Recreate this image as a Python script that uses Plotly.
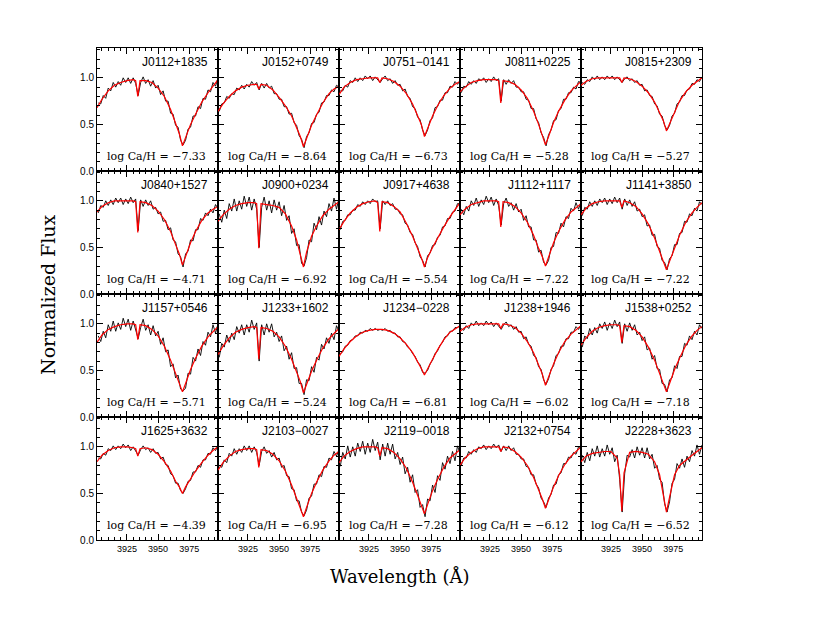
import plotly.graph_objects as go
from plotly.subplots import make_subplots

# star names and abundances, row by row
stars = ["J0112+1835", "J0152+0749", "J0751−0141", "J0811+0225", "J0815+2309",
         "J0840+1527", "J0900+0234", "J0917+4638", "J1112+1117", "J1141+3850",
         "J1157+0546", "J1233+1602", "J1234−0228", "J1238+1946", "J1538+0252",
         "J1625+3632", "J2103−0027", "J2119−0018", "J2132+0754", "J2228+3623"]
log_ca_h = [-7.33, -8.64, -6.73, -5.28, -5.27,
            -4.71, -6.92, -5.54, -7.22, -7.22,
            -5.71, -5.24, -6.81, -6.02, -7.18,
            -4.39, -6.95, -7.28, -6.12, -6.52]

# wavelength grids (Angstrom)
model_wave = [3901, 3905, 3910, 3915, 3920, 3925, 3930, 3932, 3933.7, 3935.5, 3940, 3945, 3950,
              3955, 3960, 3964, 3967, 3969.5, 3972, 3976, 3980, 3985, 3990, 3994, 3998]
obs_wave = list(range(3902, 3999, 2))

# model fluxes (percent of continuum)
m_0112 = [68, 77, 86, 92, 95, 97, 98, 97, 80, 97, 97, 95, 89, 80, 66, 52, 40, 27, 36, 50, 61, 74, 84, 91, 98]
m_0152 = [64, 72, 80, 86, 90, 92, 93, 93, 88, 93, 92, 87, 79, 70, 59, 47, 37, 26, 35, 49, 60, 73, 83, 88, 91]
m_0751 = [82, 90, 95, 98, 99, 100, 100, 100, 95, 100, 99, 96, 91, 83, 72, 60, 50, 37, 46, 59, 70, 81, 89, 93, 96]
m_0811 = [85, 90, 95, 97, 98, 98, 98, 97, 73, 97, 96, 93, 87, 78, 64, 50, 39, 28, 37, 52, 64, 76, 86, 91, 96]
m_0815 = [92, 96, 99, 100, 100, 100, 100, 100, 95, 100, 99, 96, 91, 84, 74, 63, 54, 43, 51, 64, 75, 85, 92, 96, 100]
m_0840 = [88, 94, 98, 100, 100, 100, 100, 99, 66, 99, 98, 95, 89, 80, 67, 53, 43, 31, 40, 55, 67, 79, 87, 91, 94]
m_0900 = [78, 85, 91, 95, 97, 98, 98, 97, 49, 97, 96, 95, 93, 86, 73, 58, 42, 29, 45, 62, 73, 84, 91, 95, 99]
m_0917 = [69, 78, 87, 93, 97, 99, 100, 98, 67, 99, 98, 94, 88, 76, 62, 49, 39, 29, 39, 50, 60, 72, 83, 91, 98]
m_1112 = [85, 91, 96, 98, 100, 100, 100, 99, 72, 99, 98, 94, 87, 77, 63, 49, 40, 30, 40, 55, 67, 79, 88, 93, 97]
m_1141 = [85, 92, 97, 99, 100, 100, 100, 100, 93, 100, 98, 94, 86, 75, 60, 46, 36, 26, 35, 50, 63, 77, 87, 93, 98]
m_1157 = [80, 88, 94, 97, 99, 100, 100, 99, 83, 99, 98, 94, 87, 76, 61, 47, 37, 27, 36, 51, 63, 76, 86, 92, 97]
m_1233 = [67, 76, 85, 91, 94, 96, 97, 96, 62, 96, 95, 92, 86, 76, 62, 48, 38, 26, 35, 49, 61, 74, 84, 90, 95]
m_1234 = [65, 73, 81, 87, 91, 93, 94, 94, 94, 94, 93, 90, 85, 78, 69, 60, 52, 45, 51, 62, 72, 83, 91, 95, 98]
m_1238 = [92, 96, 99, 100, 100, 100, 100, 100, 95, 100, 99, 96, 90, 81, 69, 56, 46, 34, 43, 57, 69, 81, 89, 94, 98]
m_1538 = [77, 85, 92, 96, 98, 99, 99, 98, 80, 98, 97, 93, 86, 75, 61, 47, 37, 27, 36, 51, 63, 77, 87, 93, 97]
m_1625 = [84, 91, 96, 99, 100, 100, 99, 98, 90, 98, 99, 97, 92, 84, 74, 63, 57, 50, 57, 66, 74, 83, 91, 96, 100]
m_2103 = [75, 83, 90, 95, 97, 98, 98, 97, 78, 97, 96, 92, 85, 74, 59, 45, 36, 25, 35, 50, 62, 75, 85, 91, 95]
m_2119 = [83, 90, 95, 98, 100, 100, 100, 99, 90, 99, 98, 94, 87, 77, 62, 48, 38, 28, 38, 53, 65, 78, 88, 93, 97]
m_2132 = [80, 88, 94, 98, 100, 100, 100, 100, 95, 100, 99, 95, 89, 80, 67, 54, 44, 34, 43, 57, 69, 81, 90, 95, 100]
m_2228 = [84, 90, 93, 94, 95, 95, 88, 70, 31, 72, 94, 95, 94, 92, 84, 70, 50, 30, 46, 70, 80, 86, 91, 95, 99]

# observed fluxes (percent of continuum), 2 A sampling
o_0112 = [73, 72, 81, 78, 89, 86, 95, 90, 96, 92, 100, 95, 100, 94, 100, 94, 81, 95, 101, 94,
          98, 91, 97, 89, 92, 82, 86, 75, 75, 62, 61, 49, 47, 33, 28, 33, 45, 47, 59, 59,
          69, 67, 78, 77, 87, 85, 95, 91, 100]
o_0152 = [64, 72, 73, 80, 78, 83, 82, 89, 87, 92, 88, 93, 90, 96, 92, 95, 87, 94, 89, 94,
          89, 91, 83, 83, 77, 77, 69, 69, 61, 62, 52, 49, 38, 34, 25, 37, 41, 51, 52, 61,
          63, 73, 74, 81, 81, 87, 85, 92, 90]
o_0751 = [86, 86, 92, 90, 97, 95, 100, 96, 100, 97, 102, 99, 102, 97, 101, 98, 95, 99, 102, 97,
          99, 94, 97, 92, 93, 86, 88, 80, 78, 69, 67, 58, 55, 44, 38, 44, 54, 57, 68, 69,
          76, 76, 84, 84, 91, 90, 96, 93, 97]
o_0811 = [84, 91, 90, 96, 93, 97, 94, 99, 97, 100, 95, 99, 96, 101, 97, 99, 75, 98, 93, 98,
          94, 97, 90, 90, 85, 85, 77, 76, 67, 67, 56, 52, 41, 36, 27, 39, 44, 54, 55, 65,
          67, 77, 77, 84, 84, 90, 88, 96, 95]
o_0815 = [95, 93, 98, 96, 101, 98, 102, 98, 101, 98, 102, 99, 102, 98, 101, 98, 95, 99, 101, 97,
          99, 95, 97, 92, 93, 86, 87, 81, 80, 72, 70, 61, 59, 49, 44, 49, 59, 62, 72, 74,
          81, 81, 87, 88, 94, 93, 98, 96, 101]
o_0840 = [87, 95, 93, 100, 95, 101, 96, 103, 98, 103, 96, 102, 97, 104, 98, 102, 68, 101, 94, 101,
          95, 100, 91, 93, 86, 88, 78, 79, 69, 71, 58, 56, 43, 40, 29, 43, 46, 58, 57, 69,
          69, 81, 79, 87, 84, 91, 87, 96, 92]
o_0900 = [86, 77, 90, 81, 97, 89, 102, 89, 100, 91, 105, 94, 104, 90, 102, 91, 50, 93, 104, 90,
          100, 87, 101, 90, 99, 84, 95, 79, 84, 65, 70, 52, 53, 33, 30, 39, 58, 56, 76, 69,
          83, 74, 89, 83, 97, 89, 103, 91, 103]
o_0917 = [69, 78, 79, 85, 85, 90, 90, 96, 94, 99, 96, 100, 97, 102, 99, 100, 70, 100, 96, 100,
          95, 97, 91, 91, 86, 85, 76, 74, 66, 64, 55, 51, 40, 36, 29, 41, 44, 52, 53, 61,
          63, 72, 73, 81, 81, 88, 89, 97, 97]
o_1112 = [91, 85, 94, 89, 100, 95, 103, 94, 101, 96, 105, 98, 104, 95, 102, 95, 74, 97, 103, 94,
          98, 90, 97, 88, 91, 79, 84, 72, 72, 58, 58, 45, 47, 34, 31, 36, 50, 51, 66, 65,
          76, 72, 83, 81, 92, 89, 98, 91, 99]
o_1141 = [84, 93, 91, 99, 94, 100, 95, 102, 98, 103, 96, 102, 97, 104, 98, 103, 91, 102, 95, 101,
          94, 99, 89, 91, 83, 85, 73, 74, 63, 64, 51, 49, 36, 34, 26, 38, 41, 53, 53, 65,
          66, 78, 77, 86, 84, 92, 89, 99, 96]
o_1157 = [87, 81, 92, 85, 99, 92, 103, 92, 101, 94, 106, 97, 105, 93, 103, 94, 84, 96, 105, 93,
          99, 88, 98, 87, 92, 78, 85, 70, 72, 54, 57, 42, 45, 30, 28, 31, 47, 46, 64, 60,
          73, 66, 81, 77, 91, 86, 99, 90, 100]
o_1233 = [64, 79, 75, 88, 80, 90, 83, 97, 90, 99, 88, 99, 91, 104, 94, 101, 60, 99, 88, 100,
          91, 100, 86, 91, 81, 87, 71, 76, 62, 69, 52, 53, 36, 36, 24, 40, 39, 54, 48, 64,
          61, 78, 73, 85, 79, 90, 83, 98, 92]
o_1234 = [68, 70, 76, 77, 82, 83, 87, 87, 91, 90, 93, 92, 95, 93, 95, 93, 94, 93, 95, 92,
          93, 90, 90, 86, 86, 81, 80, 75, 73, 68, 65, 59, 56, 48, 47, 50, 57, 61, 68, 71,
          77, 80, 86, 87, 92, 92, 96, 96, 98]
o_1238 = [95, 93, 98, 95, 101, 98, 103, 98, 101, 98, 103, 99, 102, 97, 101, 98, 94, 99, 102, 97,
          99, 94, 97, 91, 92, 84, 86, 78, 76, 66, 64, 54, 51, 40, 35, 41, 51, 55, 66, 68,
          76, 76, 84, 84, 91, 91, 97, 94, 99]
o_1538 = [75, 87, 84, 95, 88, 96, 90, 100, 95, 102, 93, 101, 95, 104, 97, 102, 79, 100, 92, 101,
          93, 99, 88, 91, 82, 86, 72, 74, 62, 66, 52, 51, 36, 35, 27, 40, 42, 55, 52, 65,
          65, 79, 77, 87, 83, 92, 88, 99, 95]
o_1625 = [88, 87, 93, 91, 98, 96, 101, 97, 101, 98, 103, 99, 102, 96, 100, 96, 91, 97, 101, 97,
          99, 94, 98, 93, 94, 87, 89, 81, 80, 71, 69, 61, 61, 53, 50, 55, 63, 64, 73, 73,
          80, 78, 86, 86, 93, 92, 99, 96, 101]
o_2103 = [80, 78, 86, 83, 93, 90, 98, 92, 98, 94, 101, 96, 101, 94, 100, 94, 80, 95, 100, 93,
          96, 89, 94, 86, 88, 78, 80, 69, 68, 55, 54, 42, 42, 30, 26, 32, 45, 47, 60, 60,
          70, 68, 79, 78, 88, 86, 95, 90, 97]
o_2119 = [79, 94, 87, 101, 89, 100, 90, 104, 95, 106, 92, 104, 94, 108, 96, 105, 86, 103, 90, 104,
          92, 103, 87, 94, 81, 89, 71, 78, 62, 70, 51, 54, 35, 38, 25, 44, 42, 59, 51, 69,
          64, 83, 76, 90, 82, 95, 85, 101, 93]
o_2132 = [80, 88, 88, 95, 92, 97, 94, 100, 98, 102, 97, 101, 98, 103, 99, 102, 95, 101, 96, 101,
          96, 99, 92, 92, 87, 87, 79, 78, 70, 70, 60, 56, 45, 41, 35, 45, 49, 59, 60, 70,
          72, 82, 82, 89, 88, 94, 92, 100, 99]
o_2228 = [91, 83, 94, 85, 98, 90, 101, 89, 98, 90, 102, 92, 99, 84, 91, 65, 30, 71, 91, 89,
          97, 88, 100, 91, 99, 88, 99, 87, 92, 77, 80, 65, 62, 39, 30, 41, 61, 65, 82, 77,
          87, 78, 90, 84, 96, 90, 102, 92, 102]

models = [m_0112, m_0152, m_0751, m_0811, m_0815, m_0840, m_0900, m_0917, m_1112, m_1141,
          m_1157, m_1233, m_1234, m_1238, m_1538, m_1625, m_2103, m_2119, m_2132, m_2228]
observed = [o_0112, o_0152, o_0751, o_0811, o_0815, o_0840, o_0900, o_0917, o_1112, o_1141,
            o_1157, o_1233, o_1234, o_1238, o_1538, o_1625, o_2103, o_2119, o_2132, o_2228]

fig = make_subplots(rows=4, cols=5, shared_xaxes=True, shared_yaxes=True,
                    horizontal_spacing=0, vertical_spacing=0)

for k, name in enumerate(stars):
    r, c = k // 5 + 1, k % 5 + 1
    fig.add_trace(go.Scatter(x=obs_wave, y=[v / 100 for v in observed[k]], mode="lines",
                             line=dict(color="black", width=0.9)), row=r, col=c)
    fig.add_trace(go.Scatter(x=model_wave, y=[v / 100 for v in models[k]], mode="lines",
                             line=dict(color="#ff0000", width=1.2)), row=r, col=c)
    n = "" if k == 0 else str(k + 1)
    fig.add_annotation(text=name, x=0.93, y=0.886, xref=f"x{n} domain", yref=f"y{n} domain",
                       xanchor="right", yanchor="middle", showarrow=False,
                       font=dict(family="Liberation Sans", size=12, color="black"))
    label = f"log Ca/H = {log_ca_h[k]:.2f}".replace("-", "−")
    fig.add_annotation(text=label, x=0.49, y=0.114, xref=f"x{n} domain", yref=f"y{n} domain",
                       xanchor="center", yanchor="middle", showarrow=False,
                       font=dict(family="DejaVu Serif", size=11, color="black"))

fig.update_xaxes(
    range=[3901, 3998], tick0=3900, dtick=25,
    ticks="inside", ticklen=6, tickcolor="black", mirror="allticks",
    showline=True, linecolor="black", linewidth=1,
    showgrid=False, zeroline=False,
    minor=dict(ticks="inside", tick0=3900, dtick=5, ticklen=3, tickcolor="black", showgrid=False),
    tickfont=dict(family="Liberation Sans", size=9, color="black"),
)
fig.update_yaxes(
    range=[0, 1.32], tick0=0, dtick=0.5, tickformat=".1f",
    ticks="inside", ticklen=6, tickcolor="black", mirror="allticks",
    showline=True, linecolor="black", linewidth=1,
    showgrid=False, zeroline=False,
    minor=dict(ticks="inside", tick0=0, dtick=0.1, ticklen=3, tickcolor="black", showgrid=False),
    tickfont=dict(family="Liberation Sans", size=10, color="black"),
)

fig.add_annotation(text="Normalized Flux", x=-0.081, y=0.5, xref="paper", yref="paper",
                   textangle=-90, showarrow=False, xanchor="center", yanchor="middle",
                   font=dict(family="DejaVu Serif", size=19, color="black"))
fig.add_annotation(text="Wavelength (Å)", x=0.5, y=-0.075, xref="paper", yref="paper",
                   showarrow=False, xanchor="center", yanchor="middle",
                   font=dict(family="DejaVu Serif", size=18, color="black"))

# the page body has an 8 px margin, so the plot area is shifted back by that much
fig.update_layout(
    width=827, height=618,
    showlegend=False,
    plot_bgcolor="white", paper_bgcolor="white",
    margin=dict(l=89, r=133, t=40, b=86),
)

fig.write_html("out.html")
